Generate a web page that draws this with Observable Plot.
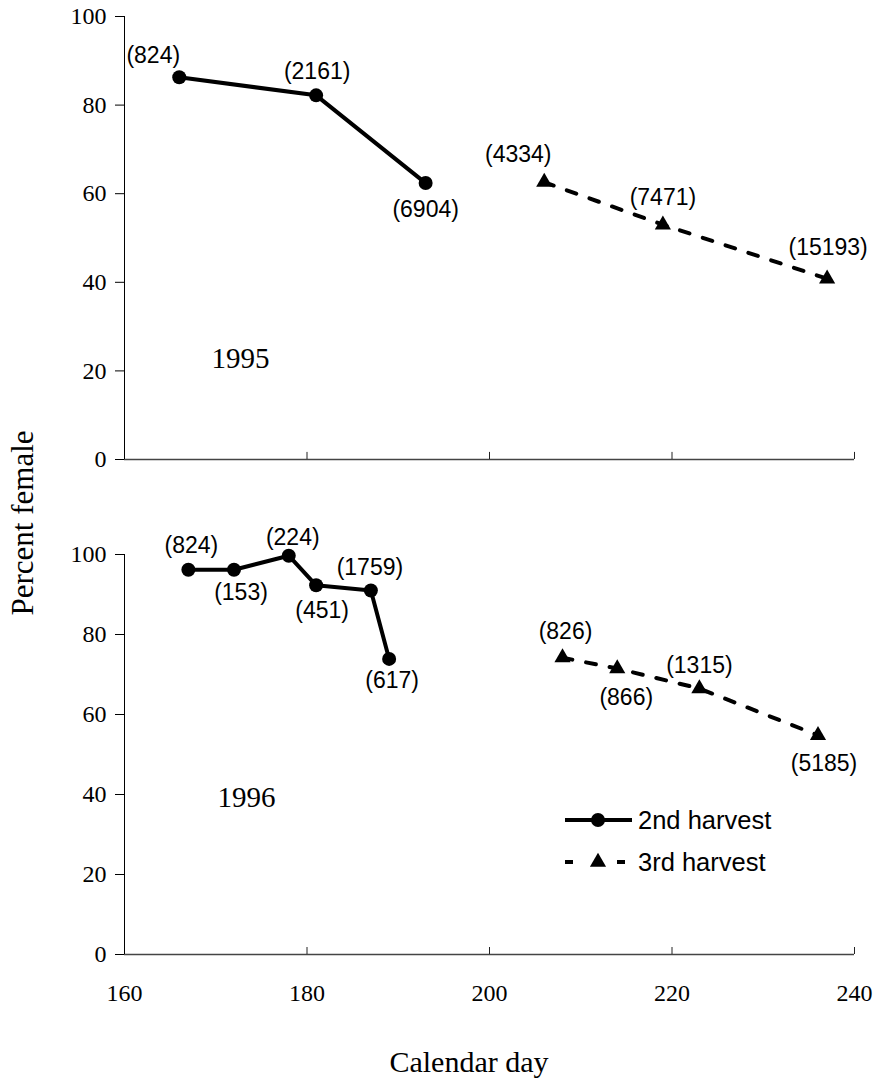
<!DOCTYPE html>
<html>
<head>
<meta charset="utf-8">
<script src="https://cdn.jsdelivr.net/npm/d3@7"></script>
<script src="https://cdn.jsdelivr.net/npm/@observablehq/plot@0.6"></script>
<style>
  body { margin: 0; background: #fff; }
  #wrap { position: relative; width: 873px; height: 1078px; background: #fff; overflow: hidden; }
  #top { position: absolute; left: 0; top: 0; }
  #bottom { position: absolute; left: 0; top: 500px; }
  .title { position: absolute; font-family: "Liberation Serif", "Times New Roman", serif; color: #000; white-space: nowrap; line-height: 1; }
  #ytitle { left: 22px; top: 523px; font-size: 31px; transform: translate(-50%, -50%) rotate(-90deg); }
  #xtitle { left: 469px; top: 1062px; font-size: 30px; transform: translate(-50%, -50%); }
  #legend { position: absolute; left: 560px; top: 798px; }
</style>
</head>
<body>
<div id="wrap">
  <div id="top"></div>
  <div id="bottom"></div>
  <div class="title" id="ytitle">Percent female</div>
  <div class="title" id="xtitle">Calendar day</div>
  <div id="legend"></div>
</div>
<script>
// ---------- data ----------
const xTicks = [160, 180, 200, 220, 240];
const yTicks = [0, 20, 40, 60, 80, 100];
const seriesNames = ["2nd harvest", "3rd harvest"];

// 1995
const days95h2 = [166, 181, 193];
const pct95h2 = [86.3, 82.2, 62.4];
const n95h2 = ["(824)", "(2161)", "(6904)"];
const days95h3 = [206, 219, 237];
const pct95h3 = [62.6, 53.0, 40.8];
const n95h3 = ["(4334)", "(7471)", "(15193)"];

// 1996
const days96h2 = [167, 172, 178, 181, 187, 189];
const pct96h2 = [96.2, 96.2, 99.7, 92.3, 91.0, 73.9];
const n96h2 = ["(824)", "(153)", "(224)", "(451)", "(1759)", "(617)"];
const days96h3 = [208, 214, 223, 236];
const pct96h3 = [74.2, 71.5, 66.5, 54.8];
const n96h3 = ["(826)", "(866)", "(1315)", "(5185)"];

// ---------- label placement (layout only) ----------
const off95h2 = [[-26, -22], [1, -24], [0, 27]];
const off95h3 = [[-26, -28], [0, -27], [1, -31]];
const off96h2 = [[3, -24], [7, 23], [4, -18], [6, 25], [-1, -23], [3, 22]];
const off96h3 = [[3, -26], [9, 29], [0, -23], [6, 28]];

const SERIF = "'Liberation Serif', 'Times New Roman', serif";
const SANS = "'Liberation Sans', Arial, Helvetica, sans-serif";

function rows(days, pct, labels, offs) {
  return days.map((d, i) => ({day: d, pct: pct[i], label: labels[i], dx: offs[i][0], dy: offs[i][1]}));
}

function panel(opts) {
  const {h2, h3, height, marginTop, marginBottom, year, yearDx, yearDy, showX, tickLen} = opts;
  const marks = [
    Plot.ruleY([0], {x1: 160, x2: 240, stroke: "#444", strokeWidth: 1.5}),
    Plot.ruleX([160], {y1: 0, y2: 100, stroke: "#000", strokeWidth: 1}),
    Plot.ruleX(xTicks.slice(1), {y1: 0, y2: tickLen, stroke: "#222", strokeWidth: 1}),
    Plot.axisY({ticks: yTicks, tickSize: 9, tickPadding: 9, fontSize: 24, label: null, stroke: "#000"}),
    Plot.line(h2, {x: "day", y: "pct", stroke: "#000", strokeWidth: 4}),
    Plot.dot(h2, {x: "day", y: "pct", r: 7, fill: "#000"}),
    Plot.line(h3, {x: "day", y: "pct", stroke: "#000", strokeWidth: 4, strokeDasharray: "10,14"}),
    Plot.dot(h3, {x: "day", y: "pct", symbol: "triangle", r: 6, fill: "#000"}),
    ...h2.concat(h3).map(d => Plot.text([d], {
      x: "day", y: "pct", text: "label", dx: d.dx, dy: d.dy,
      fontSize: 23, fontFamily: SANS, fill: "#000"
    })),
    Plot.text([year], {frameAnchor: "top-left", text: d => d, dx: yearDx, dy: yearDy,
      fontSize: 29, fontFamily: SERIF, fill: "#000", textAnchor: "middle", lineAnchor: "middle"})
  ];
  if (showX) {
    marks.push(Plot.axisX({ticks: xTicks, tickSize: 0, tickPadding: 29, fontSize: 24, label: null}));
  }
  return Plot.plot({
    width: 873,
    height,
    marginTop,
    marginBottom,
    marginLeft: 124,
    marginRight: 19,
    style: {fontFamily: SERIF, fontSize: "24px", background: "transparent", color: "#000", overflow: "visible"},
    x: {domain: [160, 240], axis: showX ? undefined : null},
    y: {domain: [0, 100]},
    marks
  });
}

document.getElementById("top").appendChild(panel({
  h2: rows(days95h2, pct95h2, n95h2, off95h2),
  h3: rows(days95h3, pct95h3, n95h3, off95h3),
  height: 480, marginTop: 16, marginBottom: 21,
  year: "1995", yearDx: 116, yearDy: 342, showX: false, tickLen: 1.6
}));

document.getElementById("bottom").appendChild(panel({
  h2: rows(days96h2, pct96h2, n96h2, off96h2),
  h3: rows(days96h3, pct96h3, n96h3, off96h3),
  height: 578, marginTop: 54, marginBottom: 124,
  year: "1996", yearDx: 122, yearDy: 243, showX: true, tickLen: 1.75
}));

// ---------- legend ----------
const lg = d3.select("#legend").append("svg").attr("width", 280).attr("height", 90);
const r1 = 22, r2 = 64;
lg.append("line").attr("x1", 5).attr("x2", 72).attr("y1", r1).attr("y2", r1)
  .attr("stroke", "#000").attr("stroke-width", 4);
lg.append("circle").attr("cx", 38).attr("cy", r1).attr("r", 7).attr("fill", "#000");
lg.append("line").attr("x1", 5).attr("x2", 72).attr("y1", r2).attr("y2", r2)
  .attr("stroke", "#000").attr("stroke-width", 4).attr("stroke-dasharray", "8,14,0,30,8");
lg.append("path").attr("d", d3.symbol(d3.symbolTriangle, Math.PI * 6 * 6)())
  .attr("transform", `translate(38,${r2})`).attr("fill", "#000");
seriesNames.forEach((name, i) => {
  lg.append("text").attr("x", 78).attr("y", i === 0 ? r1 : r2).attr("dy", "0.35em")
    .attr("font-family", SANS).attr("font-size", 25.5).attr("fill", "#000").text(name);
});
</script>
</body>
</html>
